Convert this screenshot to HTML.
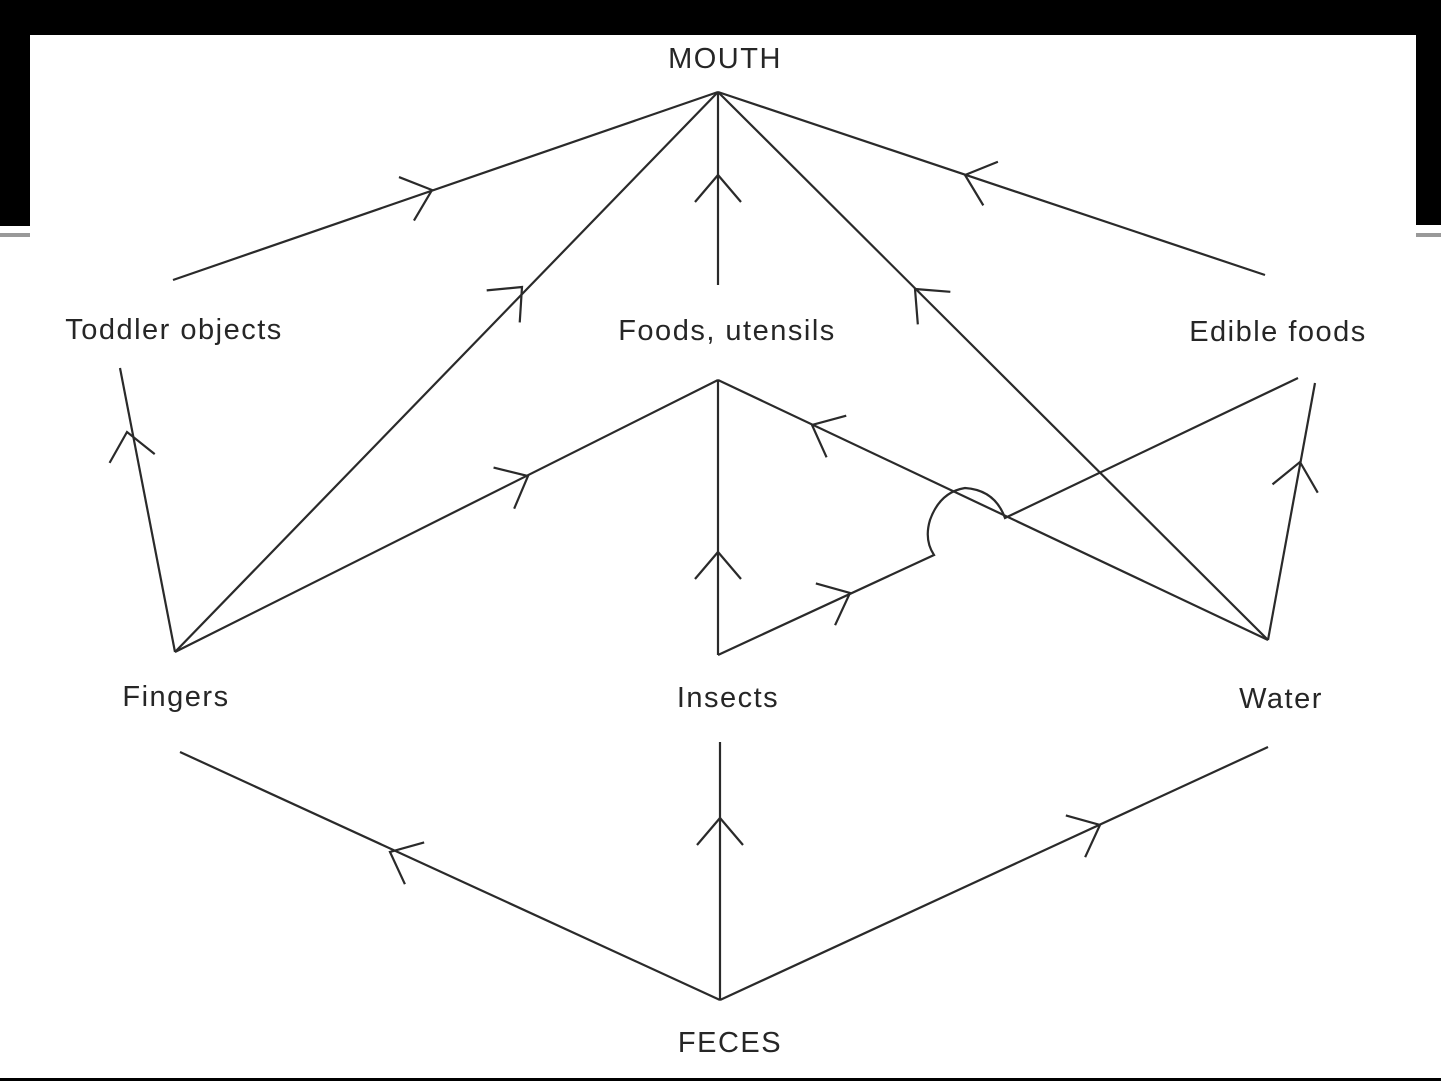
<!DOCTYPE html>
<html><head><style>
html,body{margin:0;padding:0;background:#fff;}
body{width:1441px;height:1081px;position:relative;overflow:hidden;}
svg{position:absolute;left:0;top:0;}
text{font-family:"Liberation Sans",sans-serif;font-size:29px;fill:#262626;letter-spacing:1.5px;}
</style></head><body>
<svg width="1441" height="1081" viewBox="0 0 1441 1081">
<rect x="0" y="0" width="1441" height="35" fill="#000"/>
<rect x="0" y="0" width="30" height="226" fill="#000"/>
<rect x="1416" y="0" width="25" height="225" fill="#000"/>
<rect x="0" y="233" width="30" height="4" fill="#999"/>
<rect x="1416" y="233" width="25" height="4" fill="#999"/>
<rect x="0" y="1078" width="1441" height="3" fill="#000"/>
<g stroke="#2a2a2a" stroke-width="2.2" fill="none">
<line x1="173" y1="280" x2="718" y2="92"/>
<line x1="175" y1="652" x2="718" y2="92"/>
<line x1="718" y1="285" x2="718" y2="92"/>
<line x1="1268" y1="640" x2="718" y2="92"/>
<line x1="1265" y1="275" x2="718" y2="92"/>
<line x1="175" y1="652" x2="120" y2="368"/>
<line x1="175" y1="652" x2="718" y2="380"/>
<line x1="718" y1="655" x2="718" y2="380"/>
<line x1="1268" y1="640" x2="718" y2="380"/>
<path d="M718 655 L934 555 Q924 540 930 520 Q940 492 965 488 Q995 490 1005 518 L1298 378"/>
<line x1="1268" y1="640" x2="1315" y2="383"/>
<line x1="180" y1="752" x2="720" y2="1000"/>
<line x1="720" y1="742" x2="720" y2="1000"/>
<line x1="720" y1="1000" x2="1268" y2="747"/>
</g>
<g stroke="#2a2a2a" stroke-width="2.2" fill="none">
<polyline transform="translate(432,190) rotate(-19)" points="-27,-23 0,0 -27,23"/>
<polyline transform="translate(522,287) rotate(-45.9)" points="-27,-23 0,0 -27,23"/>
<polyline transform="translate(718,175) rotate(-90)" points="-27,-23 0,0 -27,23"/>
<polyline transform="translate(915,289) rotate(-135)" points="-27,-23 0,0 -27,23"/>
<polyline transform="translate(965,175) rotate(-161.5)" points="-27,-23 0,0 -27,23"/>
<polyline transform="translate(127,432) rotate(-101)" points="-27,-23 0,0 -27,23"/>
<polyline transform="translate(528,476) rotate(-26.6)" points="-27,-23 0,0 -27,23"/>
<polyline transform="translate(718,552) rotate(-90)" points="-27,-23 0,0 -27,23"/>
<polyline transform="translate(812,425) rotate(-154.7)" points="-27,-23 0,0 -27,23"/>
<polyline transform="translate(850,593) rotate(-24.7)" points="-27,-23 0,0 -27,23"/>
<polyline transform="translate(1300,462) rotate(-79.6)" points="-27,-23 0,0 -27,23"/>
<polyline transform="translate(390,852) rotate(-155.3)" points="-27,-23 0,0 -27,23"/>
<polyline transform="translate(720,818) rotate(-90)" points="-27,-23 0,0 -27,23"/>
<polyline transform="translate(1100,825) rotate(-24.8)" points="-27,-23 0,0 -27,23"/>
</g>
<text x="725" y="68" text-anchor="middle">MOUTH</text>
<text x="174" y="339" text-anchor="middle">Toddler objects</text>
<text x="727" y="340" text-anchor="middle">Foods, utensils</text>
<text x="1278" y="341" text-anchor="middle">Edible foods</text>
<text x="176" y="706" text-anchor="middle">Fingers</text>
<text x="728" y="707" text-anchor="middle">Insects</text>
<text x="1281" y="708" text-anchor="middle">Water</text>
<text x="730" y="1052" text-anchor="middle">FECES</text>
</svg>
</body></html>
